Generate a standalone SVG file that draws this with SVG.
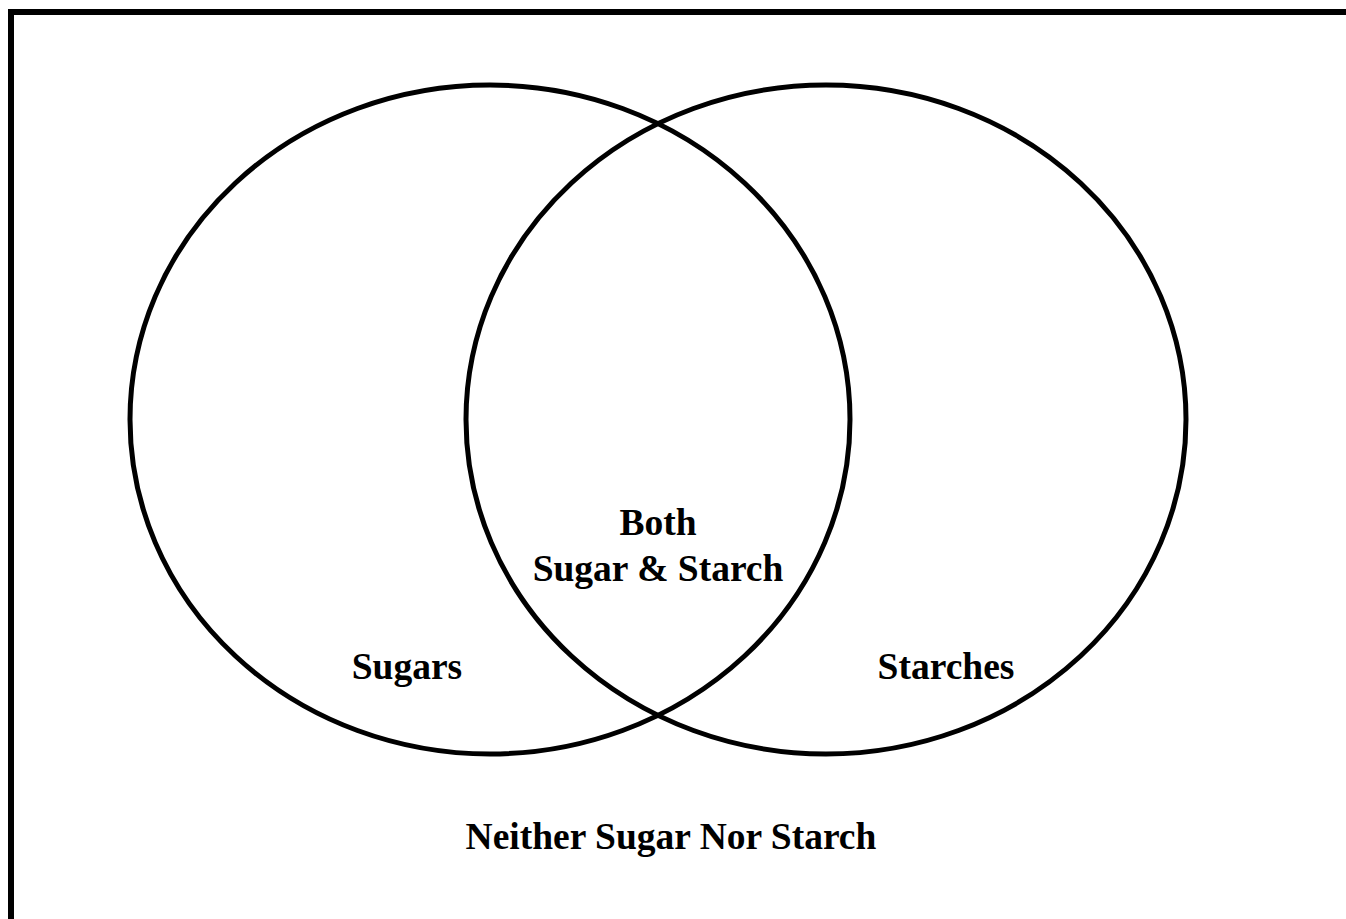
<svg xmlns="http://www.w3.org/2000/svg" width="1346" height="919" viewBox="0 0 1346 919">
<style>
.c{fill:none;stroke:#000;stroke-width:5}
.t{font-family:"Liberation Serif","Times New Roman",serif;font-weight:bold;font-size:37.5px;fill:#000;text-anchor:middle}
</style>
<rect x="0" y="0" width="1346" height="919" fill="#fff"/>
<rect x="11" y="12" width="1400" height="1000" fill="none" stroke="#000" stroke-width="6"/>
<g id="sugars">
<ellipse class="c" cx="490" cy="419.5" rx="360" ry="334.5"/>
<text class="t" x="407" y="679">Sugars</text>
</g>
<g id="starches">
<ellipse class="c" cx="826" cy="419.5" rx="360" ry="334.5"/>
<text class="t" x="946" y="679">Starches</text>
</g>
<g id="both">
<text class="t" x="658" y="535">Both</text>
<text class="t" x="658" y="581">Sugar &amp; Starch</text>
</g>
<g id="neither">
<text class="t" x="671" y="849">Neither Sugar Nor Starch</text>
</g>
<g id="connectors"></g>
</svg>
